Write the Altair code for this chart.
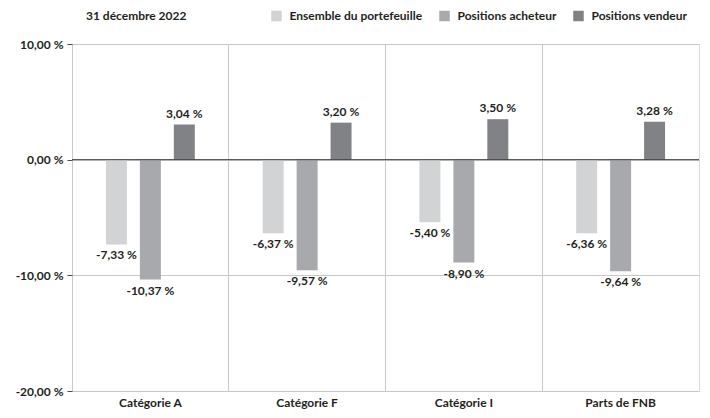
import altair as alt
import pandas as pd

categories = ["Catégorie A", "Catégorie F", "Catégorie I", "Parts de FNB"]
series = ["Ensemble du portefeuille", "Positions acheteur", "Positions vendeur"]
ensemble = [-7.33, -6.37, -5.40, -6.36]
acheteur = [-10.37, -9.57, -8.90, -9.64]
vendeur = [3.04, 3.20, 3.50, 3.28]
colors = ["#d1d3d4", "#a7a9ac", "#808285"]
y_ticks = [-20, -10, 0, 10]
title_text = "31 décembre 2022"

rows = []
for i, c in enumerate(categories):
    for s, vals in zip(series, [ensemble, acheteur, vendeur]):
        rows.append({"cat": c, "serie": s, "v": vals[i]})
df = pd.DataFrame(rows)

FONT = "Lato"
TXT = "#231f20"
FS = 12

fmt = "(datum.v < 0 ? '-' : '') + replace(format(abs(datum.v), '.2f'), '.', ',') + ' %'"
axfmt = "(datum.value < 0 ? '-' : '') + replace(format(abs(datum.value), '.2f'), '.', ',') + ' %'"

x_enc = alt.X("cat:N", sort=categories, title=None,
              scale=alt.Scale(paddingInner=0, paddingOuter=0),
              axis=alt.Axis(grid=True, bandPosition=0, gridColor="#c8c8c8", ticks=False,
                            domain=False, labelAngle=0, labelFont=FONT, labelFontWeight="bold",
                            labelFontSize=FS, labelColor=TXT, labelPadding=6))
xo_enc = alt.XOffset("serie:N", sort=series,
                     scale=alt.Scale(paddingInner=0.382, paddingOuter=1.0))
y_scale = alt.Scale(domain=[-20, 10], nice=False)

base = alt.Chart(df)

bars = base.mark_bar().encode(
    x=x_enc,
    xOffset=xo_enc,
    y=alt.Y("v:Q", scale=y_scale, title=None,
            axis=alt.Axis(values=y_ticks, grid=True, gridColor="#c8c8c8", domain=False,
                          tickSize=5, tickColor="#4d4d4d", labelExpr=axfmt, labelFont=FONT,
                          labelFontWeight="bold", labelFontSize=FS, labelColor=TXT,
                          labelPadding=4)),
    color=alt.Color("serie:N", sort=series, scale=alt.Scale(domain=series, range=colors),
                    legend=alt.Legend(title=None, orient="none", legendX=198.5, legendY=-34,
                                      direction="horizontal", symbolType="square",
                                      symbolSize=110, symbolStrokeWidth=0, labelFont=FONT,
                                      labelFontWeight="bold", labelFontSize=12,
                                      labelColor=TXT, labelOffset=7, columnPadding=16)),
)

zero = alt.Chart(pd.DataFrame({"z": [0]})).mark_rule(color="#3c3c3c", strokeWidth=1).encode(
    y=alt.Y("z:Q", scale=y_scale)
)

pos_lbl = base.transform_filter("datum.v >= 0").transform_calculate(lbl=fmt).mark_text(
    baseline="bottom", dy=-4, font=FONT, fontWeight="bold", fontSize=FS, color=TXT
).encode(x=alt.X("cat:N", sort=categories), xOffset=xo_enc,
         y=alt.Y("v:Q", scale=y_scale), text="lbl:N")

neg_lbl = base.transform_filter("datum.v < 0").transform_calculate(lbl=fmt).mark_text(
    baseline="top", dy=6, font=FONT, fontWeight="bold", fontSize=FS, color=TXT
).encode(x=alt.X("cat:N", sort=categories), xOffset=xo_enc,
         y=alt.Y("v:Q", scale=y_scale), text="lbl:N")

title = alt.Chart(pd.DataFrame({"t": [title_text]})).mark_text(
    align="left", baseline="middle", font=FONT, fontWeight="bold", fontSize=12, color=TXT
).encode(x=alt.value(14), y=alt.value(-28.5), text="t:N")

chart = alt.layer(bars, zero, pos_lbl, neg_lbl, title).properties(
    width=627, height=347,
    autosize=alt.AutoSizeParams(type="none"),
    padding={"left": 64, "top": 36, "right": 3, "bottom": 19},
).configure_view(stroke="#4d4d4d", strokeWidth=1).configure(background="white")

chart.save("out.html", embed_options={"renderer": "svg", "actions": False})
